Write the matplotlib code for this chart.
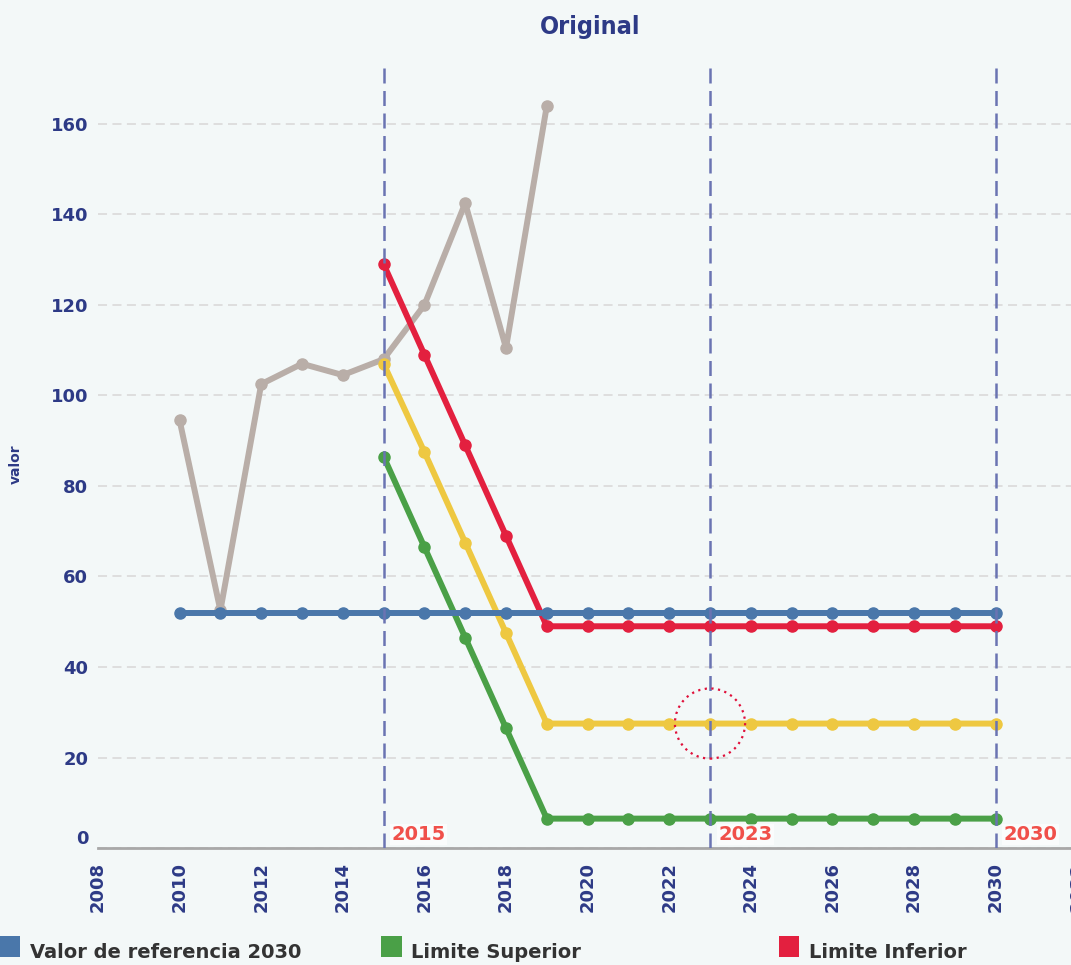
import matplotlib.pyplot as plt
from matplotlib.patches import Ellipse, Rectangle

# ---- data ----
years_hist = [2010, 2011, 2012, 2013, 2014, 2015, 2016, 2017, 2018, 2019]
historico = [94.5, 52.5, 102.5, 107, 104.5, 108, 120, 142.5, 110.5, 164]

years_ref = [2010, 2011, 2012, 2013, 2014, 2015, 2016, 2017, 2018, 2019, 2020,
             2021, 2022, 2023, 2024, 2025, 2026, 2027, 2028, 2029, 2030]
referencia = [52, 52, 52, 52, 52, 52, 52, 52, 52, 52, 52,
              52, 52, 52, 52, 52, 52, 52, 52, 52, 52]

years_lim = [2015, 2016, 2017, 2018, 2019, 2020, 2021, 2022,
             2023, 2024, 2025, 2026, 2027, 2028, 2029, 2030]
lim_inferior = [129, 109, 89, 69, 49, 49, 49, 49, 49, 49, 49, 49, 49, 49, 49, 49]
meta = [107, 87.5, 67.5, 47.5, 27.5, 27.5, 27.5, 27.5,
        27.5, 27.5, 27.5, 27.5, 27.5, 27.5, 27.5, 27.5]
lim_superior = [86.5, 66.5, 46.5, 26.5, 6.5, 6.5, 6.5, 6.5,
                6.5, 6.5, 6.5, 6.5, 6.5, 6.5, 6.5, 6.5]

hitos = [2015, 2023, 2030]
x_ticks = [2008, 2010, 2012, 2014, 2016, 2018, 2020, 2022, 2024, 2026, 2028, 2030, 2032]
y_ticks = [0, 20, 40, 60, 80, 100, 120, 140, 160]

legend_names = ['Valor de referencia 2030', 'Limite Superior', 'Limite Inferior']

# ---- style ----
bg = '#f3f8f8'
navy = '#2d3a86'
c_blue = '#4a77aa'
c_green = '#4aa047'
c_red = '#e3203f'
c_yellow = '#eec841'
c_gray = '#b9aea8'
c_label = '#f0504a'

fig = plt.figure(figsize=(10.71, 9.65), dpi=100, facecolor=bg)
ax = fig.add_axes([0.0915, 0.1212, 0.9143, 0.8114])
ax.set_facecolor(bg)

lw = 4.3
ms = 8
ax.plot(years_hist, historico, color=c_gray, lw=lw, marker='o', ms=ms, zorder=3)
ax.plot(years_lim, lim_superior, color=c_green, lw=lw, marker='o', ms=ms, zorder=4)
ax.plot(years_lim, meta, color=c_yellow, lw=lw, marker='o', ms=ms, zorder=5)
ax.plot(years_lim, lim_inferior, color=c_red, lw=lw, marker='o', ms=ms, zorder=6)
ax.plot(years_ref, referencia, color=c_blue, lw=lw, marker='o', ms=ms, zorder=7)

for h in hitos:
    ax.axvline(h, color='#6a74b2', lw=1.8, ls=(0, (6, 3)), zorder=8)
    ax.text(h + 0.2, 3.0, str(h), color=c_label, fontsize=14, fontweight='bold',
            ha='left', va='center', zorder=9,
            bbox=dict(facecolor='white', edgecolor='none', alpha=0.6, pad=1))

# highlight of the 2023 target point
i23 = years_lim.index(2023)
ax.add_patch(Ellipse((years_lim[i23], meta[i23]), 1.72, 15.5, fill=False,
                     edgecolor='#e0103a', lw=1.6, ls=(0, (1, 2)), zorder=10))

ax.set_xlim(2008, 2032)
ax.set_ylim(0, 173)
ax.set_xticks(x_ticks)
ax.set_yticks(y_ticks)
ax.set_xticklabels([str(t) for t in x_ticks], rotation=90)
ax.tick_params(axis='both', length=0, labelcolor=navy, labelsize=13)
ax.tick_params(axis='y', pad=7)
ax.tick_params(axis='x', pad=10)
for lab in ax.get_xticklabels() + ax.get_yticklabels():
    lab.set_fontweight('bold')
ax.get_yticklabels()[0].set_va('bottom')

ax.grid(axis='y', color='#dcdcdc', lw=1.3, ls=(0, (5, 3)))
ax.set_axisbelow(True)
for s in ['top', 'right', 'left']:
    ax.spines[s].set_visible(False)
ax.spines['bottom'].set_color('#a8a8a8')
ax.spines['bottom'].set_linewidth(2)

ax.set_ylabel('valor', color=navy, fontsize=10, fontweight='bold', labelpad=30)
ax.yaxis.set_label_coords(-0.077, 0.49)

fig.text(0.551, 0.972, 'Original', color=navy, fontsize=18, fontweight='bold',
         ha='center', va='center', fontstretch='condensed')

# legend at the bottom, drawn by hand to match the uneven spacing
leg_colors = [c_blue, c_green, c_red]
leg_x = [0.0, 0.356, 0.727]
for name, col, x0 in zip(legend_names, leg_colors, leg_x):
    fig.patches.append(Rectangle((x0, 0.008), 0.019, 0.022, transform=fig.transFigure,
                                 facecolor=col, edgecolor='none'))
    fig.text(x0 + 0.028, 0.013, name, color='#333333', fontsize=14, fontweight='semibold',
             ha='left', va='center')

fig.savefig('out.png', dpi=100, facecolor=bg)
